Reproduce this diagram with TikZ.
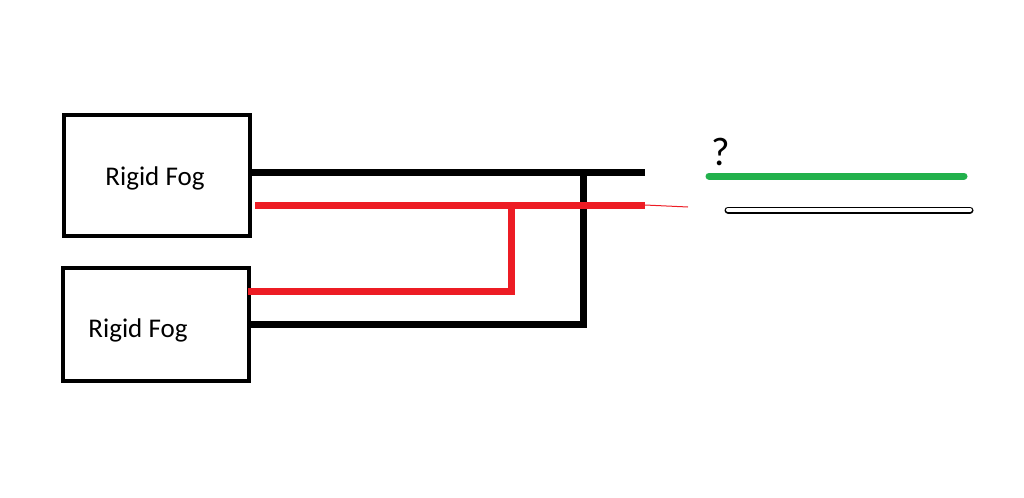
\documentclass[tikz,border=0pt]{standalone}
\usepackage{fontspec}
\setmainfont{Carlito}
\definecolor{paintred}{RGB}{237,28,36}
\definecolor{paintgreen}{RGB}{34,177,76}
\tikzset{
  fogbox/.style={draw, line width=2pt, minimum width=93pt, minimum height=60pt, inner sep=0pt},
  wire/.style={line width=3.5pt},
  blackwire/.style={wire, black},
  redwire/.style={wire, paintred},
  greenwire/.style={line width=3.5pt, paintgreen, line cap=round}
}
\begin{document}
\begin{tikzpicture}[x=0.5pt,y=-0.5pt]
\useasboundingbox (0,0) rectangle (1024,498);
% boxes
\node[fogbox, minimum height=60.5pt] (fogA) at (157,175.5) {};
\node[font=\fontsize{13.5}{15}\selectfont] (labA) at (155,178) {Rigid Fog};
\node[fogbox, minimum height=56.5pt] (fogB) at (156,324.5) {};
\node[font=\fontsize{13.5}{15}\selectfont] (labB) at (138,330) {Rigid Fog};
% wires
\coordinate (bA) at (248,172);
\coordinate (bEnd) at (645,172);
\coordinate (bJoin) at (583,172);
\coordinate (bB) at (250,324);
\coordinate (bCorner) at (583,324);
\coordinate (rA) at (255,205);
\coordinate (rEnd) at (645,205);
\coordinate (rTip) at (688,207);
\coordinate (rJoin) at (511,205);
\coordinate (rB) at (248,291);
\coordinate (rCorner) at (511,291);
\draw[blackwire] (bA) -- (bEnd);
\draw[blackwire] (bB) -- (bCorner) -- (bJoin);
\draw[redwire] (rA) -- (rEnd);
\draw[paintred, line width=0.5pt] (rEnd) -- (rTip);
\draw[redwire] (rB) -- (rCorner) -- (rJoin);
% right side
\coordinate (gL) at (709,176);
\coordinate (gR) at (964,176);
\draw[greenwire] (gL) -- (gR);
\node[font=\fontsize{20}{22}\selectfont] (ask) at (721,152) {?};
\coordinate (wL) at (728,210);
\coordinate (wR) at (970,210);
\draw[black, line width=3.5pt, line cap=round] (wL) -- (wR);
\draw[white, line width=2pt, line cap=round] (wL) -- (wR);
\end{tikzpicture}
\end{document}
